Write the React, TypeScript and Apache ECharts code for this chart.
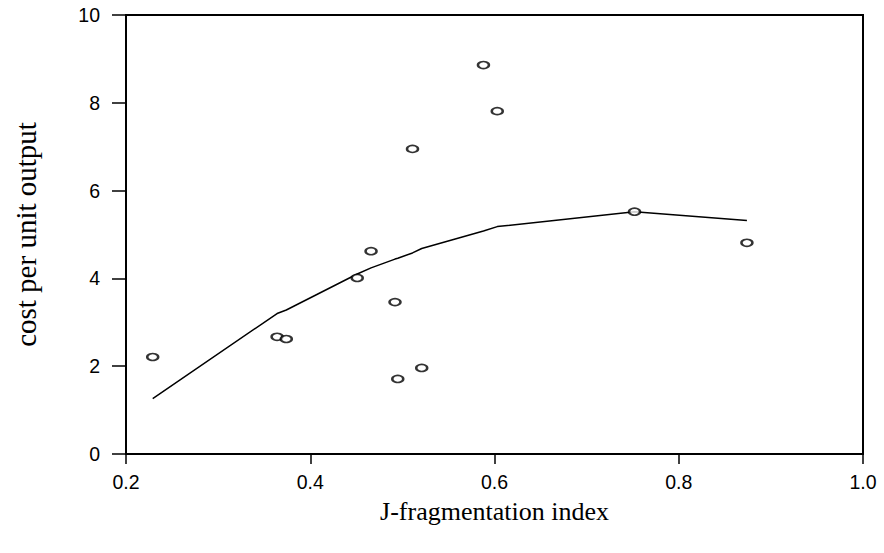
import React, { useEffect, useRef } from "react";
import * as echarts from "echarts";

const pointX = [0.229, 0.364, 0.374, 0.466, 0.451, 0.492, 0.495, 0.521, 0.511, 0.588, 0.603, 0.752, 0.874];
const pointY = [2.21, 2.67, 2.62, 4.62, 4.01, 3.46, 1.71, 1.96, 6.95, 8.86, 7.81, 5.52, 4.81];

const smoothX = [0.229, 0.364, 0.374, 0.451, 0.466, 0.492, 0.495, 0.511, 0.521, 0.588, 0.603, 0.752, 0.874];
const smoothY = [1.26, 3.2, 3.28, 4.1, 4.24, 4.44, 4.46, 4.58, 4.68, 5.08, 5.18, 5.52, 5.32];

const xTicks = [0.2, 0.4, 0.6, 0.8, 1.0];
const yTicks = [0, 2, 4, 6, 8, 10];

export default function App() {
  const ref = useRef<HTMLDivElement>(null);
  useEffect(() => {
    if (!ref.current) return;
    const chart = echarts.init(ref.current, null, { renderer: "svg" });
    const tickFont = { fontFamily: "Liberation Sans, Arial, sans-serif", fontSize: 19.5, color: "#000" };
    chart.setOption({
      animation: false,
      backgroundColor: "#fff",
      grid: { left: 126, right: 21, top: 15, bottom: 99, show: true, borderColor: "#000", borderWidth: 2 },
      xAxis: {
        type: "value",
        min: xTicks[0],
        max: xTicks[xTicks.length - 1],
        interval: 0.2,
        splitLine: { show: false },
        axisLine: { lineStyle: { color: "#000", width: 2 } },
        axisTick: { length: 10, lineStyle: { color: "#000", width: 1.5 } },
        axisLabel: { ...tickFont, margin: 18, formatter: (v: number) => v.toFixed(1) },
        name: "J-fragmentation index",
        nameLocation: "middle",
        nameGap: 44,
        nameTextStyle: { fontFamily: "Liberation Serif, Times New Roman, serif", fontSize: 26, color: "#000" },
      },
      yAxis: {
        type: "value",
        min: yTicks[0],
        max: yTicks[yTicks.length - 1],
        interval: 2,
        splitLine: { show: false },
        axisLine: { show: true, lineStyle: { color: "#000", width: 2 } },
        axisTick: { show: true, length: 14, lineStyle: { color: "#000", width: 1.5 } },
        axisLabel: { ...tickFont, margin: 26 },
        name: "cost per unit output",
        nameLocation: "middle",
        nameGap: 86,
        nameTextStyle: { fontFamily: "Liberation Serif, Times New Roman, serif", fontSize: 29, color: "#000" },
      },
      series: [
        {
          type: "line",
          data: smoothX.map((x, i) => [x, smoothY[i]]),
          showSymbol: false,
          lineStyle: { color: "#000", width: 1.5 },
          z: 2,
        },
        {
          type: "scatter",
          data: pointX.map((x, i) => [x, pointY[i]]),
          symbol: "emptyCircle",
          symbolSize: [11, 7],
          itemStyle: { color: "#000", borderColor: "#000", borderWidth: 1.8 },
          z: 3,
        },
      ],
    });
    return () => chart.dispose();
  }, []);
  return <div ref={ref} style={{ width: 884, height: 553, position: "absolute", left: 0, top: 0 }} />;
}
